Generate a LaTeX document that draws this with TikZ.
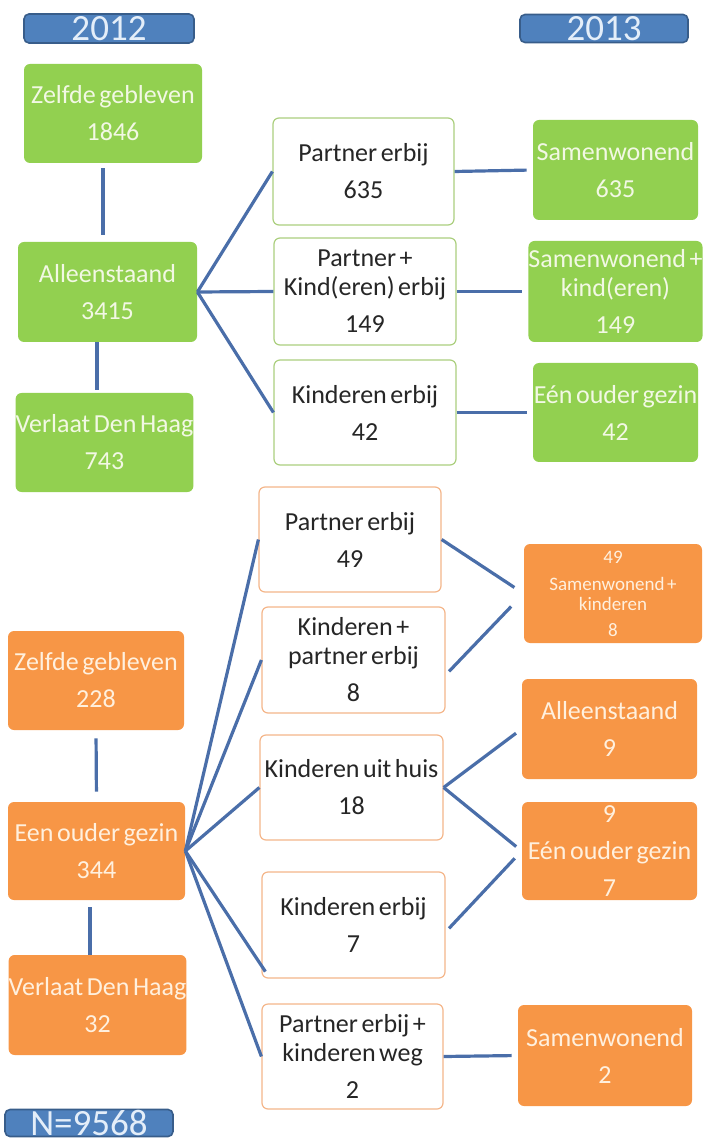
\documentclass[tikz,border=0pt]{standalone}
\usepackage{fontspec}
\setmainfont{Carlito}[WordSpace=0.6]
\usepackage{tikz}
\usetikzlibrary{positioning,calc}
\definecolor{hdrblue}{HTML}{4F81BD}
\definecolor{hdrline}{HTML}{385D8A}
\definecolor{hdrtext}{HTML}{E4EEF9}
\definecolor{stagegreen}{HTML}{92D050}
\definecolor{greenline}{HTML}{ABCF7E}
\definecolor{greentext}{HTML}{F2F8E4}
\definecolor{stageorange}{HTML}{F79646}
\definecolor{orangeline}{HTML}{F4B68A}
\definecolor{orangetext}{HTML}{FFF0DE}
\definecolor{darktext}{HTML}{262626}
\definecolor{linkblue}{HTML}{4A6EA9}

\begin{document}
\begin{tikzpicture}[x=0.5pt, y=-0.5pt,
  sz/.style 2 args={minimum width=#1, minimum height=#2},
  box/.style={rounded corners=3pt, inner sep=0pt, align=center,
    font=\fontsize{13}{14.5}\selectfont},
  greenbox/.style={box, fill=stagegreen, text=greentext},
  orangebox/.style={box, fill=stageorange, text=orangetext},
  greenstep/.style={box, draw=greenline, line width=0.6pt, fill=white, text=darktext},
  orangestep/.style={box, draw=orangeline, line width=0.6pt, fill=white, text=darktext},
  yearbox/.style={rounded corners=2.5pt, draw=hdrline, line width=0.8pt, fill=hdrblue,
    text=hdrtext, inner sep=0pt, font=\fontsize{18.5}{18.5}\selectfont},
  link/.style={draw=linkblue, line width=1.6pt}]
  \useasboundingbox (0,0) rectangle (708,1143);

  % year headers and total
  \node[yearbox, sz={85pt}{14.5pt}] (y12) at (109,28.5) {2012};
  \node[yearbox, sz={84pt}{14pt}] (y13) at (604,28.5) {2013};
  \node[yearbox, sz={84pt}{13.5pt}] (ntot) at (89,1123) {N=9568};

  % 2012 alleenstaand
  \node[greenbox, sz={89pt}{49.5pt}] (zg1) at (113,113.5) {Zelfde gebleven\\[4pt]1846};
  \node[greenbox, sz={89.5pt}{50pt}] (al1) at (107.5,292) {Alleenstaand\\[4pt]3415};
  \node[greenbox, sz={88.5pt}{49.5pt}] (vd1) at (104.5,442.5) {Verlaat Den Haag\\[4pt]743};

  \node[greenstep, sz={90.5pt}{53.5pt}] (pe1) at (363.5,171.5) {Partner erbij\\[4pt]635};
  \node[greenstep, sz={91pt}{53.5pt}] (pk1) at (365,291.5) {Partner +\\Kind(eren) erbij\\[4pt]149};
  \node[greenstep, sz={91pt}{52.5pt}] (ke1) at (365,412.5) {Kinderen erbij\\[4pt]42};

  \node[greenbox, sz={82.5pt}{50pt}] (sw1) at (615.5,170) {Samenwonend\\[4pt]635};
  \node[greenbox, sz={82.5pt}{50.5pt}] (sk1) at (615.5,291.5) {Samenwonend +\\kind(eren)\\[4pt]149};
  \node[greenbox, sz={82.5pt}{49.5pt}] (eo1) at (615.5,412.5) {Eén ouder gezin\\[4pt]42};

  \draw[link, shorten <=2.5pt, shorten >=3.5pt] ([xshift=-5pt]zg1.south) -- ([xshift=-2.25pt]al1.north);
  \draw[link, shorten >=1.5pt] ([xshift=-5.25pt]al1.south) -- ([xshift=-3.75pt]vd1.north);
  \foreach \t in {pe1,pk1,ke1}
    \draw[link] (al1.east) -- (\t.west);
  \foreach \a/\b in {pe1/sw1,pk1/sk1,ke1/eo1}
    \draw[link, shorten >=3pt] (\a.east) -- (\b.west);

  % 2012 een ouder gezin
  \node[orangebox, sz={88pt}{49.5pt}] (zg2) at (96,680.5) {Zelfde gebleven\\[4pt]228};
  \node[orangebox, sz={88.5pt}{49pt}] (eo2) at (96.5,851) {Een ouder gezin\\[4pt]344};
  \node[orangebox, sz={88.5pt}{50pt}] (vd2) at (97.5,1005) {Verlaat Den Haag\\[4pt]32};

  \node[orangestep, sz={91pt}{52.5pt}] (pe2) at (350,539.5) {Partner erbij\\[4pt]49};
  \node[orangestep, sz={91.5pt}{53pt}] (kp2) at (353.5,660) {Kinderen +\\partner erbij\\[4pt]8};
  \node[orangestep, sz={91.5pt}{52.5pt}] (ku2) at (351.5,787.5) {Kinderen uit huis\\[4pt]18};
  \node[orangestep, sz={91.5pt}{53pt}] (ke2) at (353.5,925) {Kinderen erbij\\[4pt]7};
  \node[orangestep, sz={90.5pt}{52.5pt}] (pw2) at (352.5,1056.5) {Partner erbij +\\kinderen weg\\[4pt]2};

  \node[orangebox, sz={89pt}{49.5pt}, font=\fontsize{9.5}{10}\selectfont] (sk2) at (613,593.5)
    {49\\[3.5pt]Samenwonend +\\kinderen\\[3pt]8};
  \node[orangebox, sz={87.5pt}{50pt}] (al2) at (609.5,729) {Alleenstaand\\[4pt]9};
  \node[orangebox, sz={87.5pt}{49pt}] (eo3) at (609.5,851) {9\\[4pt]Eén ouder gezin\\[4pt]7};
  \node[orangebox, sz={87pt}{50.5pt}] (sw2) at (605,1055.5) {Samenwonend\\[4pt]2};

  \draw[link, shorten <=4pt, shorten >=5pt] (zg2.south) -- (eo2.north);
  \draw[link, shorten <=3.5pt] ([xshift=-3.25pt]eo2.south) -- ([xshift=-3.75pt]vd2.north);
  \foreach \t in {pe2,kp2,ku2,pw2}
    \draw[link] (eo2.east) -- (\t.west);
  \draw[link] (eo2.east) -- ([shift={(4,-7)}]ke2.south west);

  \draw[link, shorten >=5.5pt] (pe2.east) -- (sk2.west);
  \draw[link, shorten <=2.5pt, shorten >=9pt] ([yshift=-7.5pt]kp2.east) -- (sk2.west);
  \draw[link, shorten >=3.5pt] (ku2.east) -- (al2.west);
  \draw[link, shorten >=3.5pt] (ku2.east) -- (eo3.west);
  \draw[link, shorten <=2.5pt, shorten >=5pt] ([yshift=-3.5pt]ke2.east) -- (eo3.west);
  \draw[link, shorten >=3pt] (pw2.east) -- (sw2.west);
\end{tikzpicture}
\end{document}
